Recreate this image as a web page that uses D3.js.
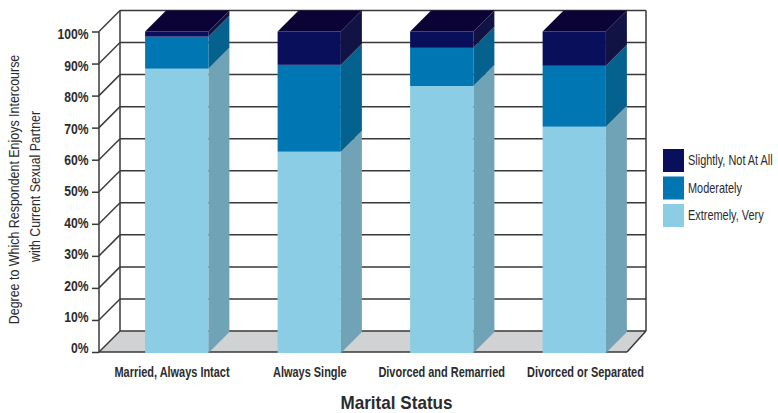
<!DOCTYPE html>
<html>
<head>
<meta charset="utf-8">
<style>
  html, body { margin: 0; padding: 0; background: #fff; }
  svg { display: block; }
  text { font-family: "Liberation Sans", sans-serif; fill: #2b2b2d; }
  .axis .domain { display: none; }
</style>
<script src="https://cdn.jsdelivr.net/npm/d3@7"></script>
</head>
<body>
<svg id="chart" width="778" height="413"></svg>
<script>
// Share of respondents in each marital status group, stacked bottom to top.
const categories = ["Married, Always Intact", "Always Single", "Divorced and Remarried", "Divorced or Separated"];
const seriesNames = ["Extremely, Very", "Moderately", "Slightly, Not At All"];
const extremelyVery = [88.4, 62.5, 83.0, 70.3];
const moderately = [10.0, 27.1, 11.9, 19.0];
const slightlyNotAtAll = [1.6, 10.4, 5.1, 10.7];
const percentTicks = [0, 10, 20, 30, 40, 50, 60, 70, 80, 90, 100];

const frontColors = ["#8acde4", "#0076b2", "#0a0f5c"];
const sideColors = ["#70a3b5", "#05628f", "#111345"];
const topColor = "#0b0336";
const lineColor = "#38383a";

const svg = d3.select("#chart");
const depth = 21;
const plot = { left: 99, right: 627, top: 31.5, bottom: 352 };

const y = d3.scaleLinear().domain([0, 100]).range([plot.bottom, plot.top]);
// Tick labels sit on a slightly tighter ladder than the tick marks themselves.
const yLabel = d3.scaleLinear().domain([0, 100]).range([348, 34]);
const xBar = d3.scaleBand().domain(categories).range([110.5, 640.5]).paddingInner(0.5225).paddingOuter(0.2612);
const xLabel = d3.scalePoint().domain(categories).range([171.5, 585]);
const labelNudge = [0, 0, -6, 0];

// The chart uses a condensed face: squeeze a regular font horizontally to the given factor.
function condense(sel, factor, place) {
  sel.attr("x", 0).attr("y", 0).attr("dy", null)
    .attr("transform", (d, i) => {
      const [px, py] = place(d, i);
      return `translate(${px},${py}) scale(${factor},1)`;
    });
}

const rows = categories.map((c, i) => ({
  category: c,
  [seriesNames[0]]: extremelyVery[i],
  [seriesNames[1]]: moderately[i],
  [seriesNames[2]]: slightlyNotAtAll[i]
}));
const stacked = d3.stack().keys(seriesNames)(rows);

const poly = pts => pts.map(p => p.join(",")).join(" ");

// Floor of the box.
svg.append("polygon")
  .attr("fill", "#d1d2d4")
  .attr("points", poly([[plot.left, plot.bottom], [plot.left + depth, y(0) - depth],
                        [plot.right + depth - 2, y(0) - depth], [plot.right, plot.bottom]]));

// Gridlines on the back wall and their returns along the left wall.
const walls = svg.append("g").attr("stroke", lineColor).attr("stroke-width", 1.5).attr("fill", "none");
walls.selectAll("line.back").data(percentTicks).join("line")
  .attr("class", "back")
  .attr("x1", plot.left + depth).attr("x2", plot.right + depth - 2)
  .attr("y1", d => y(d) - depth).attr("y2", d => y(d) - depth);
walls.selectAll("line.side").data(percentTicks).join("line")
  .attr("class", "side")
  .attr("x1", plot.left).attr("x2", plot.left + depth)
  .attr("y1", d => y(d)).attr("y2", d => y(d) - depth);
walls.append("line").attr("x1", plot.left + depth).attr("x2", plot.left + depth)
  .attr("y1", y(100) - depth).attr("y2", y(0) - depth);
walls.append("line").attr("x1", plot.right + depth - 2).attr("x2", plot.right + depth - 2)
  .attr("y1", y(100) - depth).attr("y2", y(0) - depth);
walls.append("line").attr("x1", plot.left).attr("x2", plot.right)
  .attr("y1", plot.bottom).attr("y2", plot.bottom);
walls.append("line").attr("x1", plot.right).attr("x2", plot.right + depth - 2)
  .attr("y1", plot.bottom).attr("y2", plot.bottom - depth);

// Extruded stacked columns.
const bars = svg.append("g");
stacked.forEach((layer, s) => {
  const g = bars.append("g");
  g.selectAll("polygon").data(layer).join("polygon")
    .attr("fill", sideColors[s])
    .attr("points", d => {
      const x1 = xBar(d.data.category) + xBar.bandwidth();
      return poly([[x1, y(d[0]) + (s === 0 ? 1 : 0)], [x1 + depth, y(d[0]) - depth + (s === 0 ? 1 : 0)],
                   [x1 + depth, y(d[1]) - depth], [x1, y(d[1])]]);
    });
  g.selectAll("rect").data(layer).join("rect")
    .attr("fill", frontColors[s])
    .attr("x", d => xBar(d.data.category))
    .attr("width", xBar.bandwidth())
    .attr("y", d => y(d[1]))
    .attr("height", d => y(d[0]) - y(d[1]) + (s === 0 ? 1 : 0));
});
// Column caps.
bars.append("g").selectAll("polygon").data(stacked[2]).join("polygon")
  .attr("fill", topColor)
  .attr("points", d => {
    const x0 = xBar(d.data.category), x1 = x0 + xBar.bandwidth();
    return poly([[x0, y(d[1])], [x0 + depth, y(d[1]) - depth], [x1 + depth, y(d[1]) - depth], [x1, y(d[1])]]);
  });

// Percent axis on the front edge of the box.
const yAxis = svg.append("g").attr("class", "axis").attr("transform", `translate(${plot.left},0)`)
  .call(d3.axisLeft(y).tickValues(percentTicks).tickSize(7).tickPadding(0).tickFormat(d => d + "%"));
yAxis.selectAll("line").attr("stroke", lineColor).attr("stroke-width", 1.5);
yAxis.selectAll("text")
  .attr("dominant-baseline", "central").attr("text-anchor", "end")
  .style("font-size", "15px").style("font-weight", "700")
  .call(condense, 0.81, d => [-10.5, yLabel(d) - y(d)]);
yAxis.append("line").attr("x1", 0).attr("x2", 0).attr("y1", plot.top).attr("y2", plot.bottom)
  .attr("stroke", lineColor).attr("stroke-width", 1.5);

// Category labels.
const xAxis = svg.append("g").attr("class", "axis").attr("transform", "translate(0,372)")
  .call(d3.axisBottom(xLabel).tickSize(0).tickPadding(0));
xAxis.selectAll("text")
  .attr("dominant-baseline", "central")
  .style("font-size", "15px").style("font-weight", "700")
  .call(condense, 0.73, (d, i) => [labelNudge[i], 0]);

// Axis titles.
svg.append("text").datum(0).attr("text-anchor", "middle")
  .style("font-size", "18px").style("font-weight", "700").text("Marital Status")
  .call(condense, 0.95, () => [396.5, 409]);
const yTitle = svg.append("g").attr("transform", "rotate(-90)");
yTitle.append("text").datum(0).attr("text-anchor", "middle").attr("dominant-baseline", "central")
  .style("font-size", "15px").text("Degree to Which Respondent Enjoys Intercourse")
  .call(condense, 0.83, () => [-189.5, 14.5]);
yTitle.append("text").datum(0).attr("text-anchor", "middle").attr("dominant-baseline", "central")
  .style("font-size", "15px").text("with Current Sexual Partner")
  .call(condense, 0.82, () => [-186.5, 35]);

// Legend, top series first.
const legendOrder = [2, 1, 0];
const legendY = d3.scalePoint().domain(legendOrder).range([149, 204]);
const legend = svg.append("g").selectAll("g").data(legendOrder).join("g")
  .attr("transform", d => `translate(663,${legendY(d)})`);
legend.append("rect").attr("width", 21).attr("height", 23).attr("fill", d => frontColors[d]);
legend.append("text").attr("dominant-baseline", "central")
  .style("font-size", "14px").text(d => seriesNames[d])
  .call(condense, 0.78, () => [25, 12]);
</script>
</body>
</html>
